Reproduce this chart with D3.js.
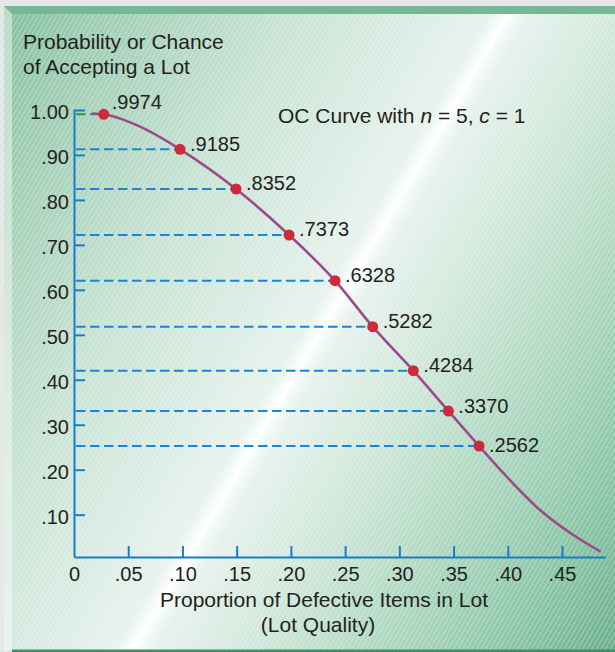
<!DOCTYPE html>
<html>
<head>
<meta charset="utf-8">
<script src="https://cdn.jsdelivr.net/npm/d3@7"></script>
<style>
  html, body { margin: 0; padding: 0; background: #e4e9e7; }
  svg { display: block; }
  text { font-family: "Liberation Sans", Arial, Helvetica, sans-serif; fill: #231f20; }
</style>
</head>
<body>
<svg id="chart" width="615" height="652"></svg>
<script>
// ---------------- data ----------------
const xTickValues = [0, 0.05, 0.10, 0.15, 0.20, 0.25, 0.30, 0.35, 0.40, 0.45];
const xTickLabels = ["0", ".05", ".10", ".15", ".20", ".25", ".30", ".35", ".40", ".45"];
const yTickValues = [0.10, 0.20, 0.30, 0.40, 0.50, 0.60, 0.70, 0.80, 0.90, 1.00];
const yTickLabels = [".10", ".20", ".30", ".40", ".50", ".60", ".70", ".80", ".90", "1.00"];

// marked points: defective proportion (x), plotted height (y), printed probability
const pointDefective = [0.0274, 0.0978, 0.1494, 0.1983, 0.2407, 0.2754, 0.3129, 0.3452, 0.3735];
const pointHeight    = [0.9904, 0.9126, 0.8243, 0.7220, 0.6203, 0.5180, 0.4202, 0.3305, 0.2527];
const pointLabels    = [".9974", ".9185", ".8352", ".7373", ".6328", ".5282", ".4284", ".3370", ".2562"];

// OC curve trace
const curveDefective = [0.0163, 0.0274, 0.0609, 0.0978, 0.1494, 0.1983, 0.2407, 0.2754, 0.3129, 0.3452, 0.3735, 0.3990, 0.4297, 0.4604, 0.4857];
const curveAccept    = [0.9922, 0.9904, 0.9629, 0.9126, 0.8243, 0.7220, 0.6203, 0.5180, 0.4202, 0.3305, 0.2527, 0.1844, 0.1103, 0.0547, 0.0176];

const yTitleLines = ["Probability or Chance", "of Accepting a Lot"];
const xTitleLines = ["Proportion of Defective Items in Lot", "(Lot Quality)"];

// ---------------- layout ----------------
const W = 615, H = 652;
const svg = d3.select("#chart");
const defs = svg.append("defs");

const grad = defs.append("linearGradient").attr("id", "bg")
  .attr("gradientUnits", "userSpaceOnUse")
  .attr("x1", 0).attr("y1", 0).attr("x2", 740).attr("y2", 437);
[[0, "#7dbc9b"], [0.1, "#98caae"], [0.2, "#b0d6c2"], [0.3, "#c6e2d3"], [0.42, "#d8ebe1"],
 [0.5, "#e6f2ec"], [0.511, "#f6fbf8"], [0.518, "#ffffff"], [0.525, "#f3f9f5"], [0.54, "#e4f1ea"],
 [0.62, "#d2e9dc"], [0.72, "#b8dcc8"], [0.82, "#9ccfb3"], [0.92, "#80bf9e"], [1, "#67ad89"]]
  .forEach(([o, c]) => grad.append("stop").attr("offset", o).attr("stop-color", c));

const hatch = defs.append("pattern").attr("id", "hatch")
  .attr("patternUnits", "userSpaceOnUse").attr("width", 4).attr("height", 4)
  .attr("patternTransform", "rotate(30)");
hatch.append("line").attr("x1", 1).attr("y1", 0).attr("x2", 1).attr("y2", 4)
  .attr("stroke", "#ffffff").attr("stroke-opacity", 0.35).attr("stroke-width", 1.2);

// frame
svg.append("rect").attr("width", W).attr("height", H).attr("fill", "#e4e9e7");
svg.append("rect").attr("x", 4).attr("y", 6).attr("width", W - 4).attr("height", 644).attr("fill", "url(#bg)");
svg.append("rect").attr("x", 4).attr("y", 6).attr("width", W - 4).attr("height", 644).attr("fill", "url(#hatch)");
svg.append("polygon").attr("points", "4,6 615,6 615,14 12,14").attr("fill", "#77b796");
svg.append("polygon").attr("points", "4,6 12,14 12,650 4,650").attr("fill", "#ffffff").attr("fill-opacity", 0.42);
svg.append("rect").attr("x", 12).attr("y", 649.5).attr("width", W - 12).attr("height", 2.5).attr("fill", "#3f9068");

// scales
const x = d3.scaleLinear().domain([0, 0.49]).range([74, 605.4]);
const y = d3.scaleLinear().domain([0, 1]).range([559.6, 110]);
const axisY0 = 557;
const axisColor = "#1b7cc5";
const tickFont = 20;

// dashed guide lines
const guides = svg.append("g");
pointDefective.forEach((d, i) => {
  guides.append("line")
    .attr("x1", 76).attr("x2", x(d))
    .attr("y1", y(pointHeight[i])).attr("y2", y(pointHeight[i]))
    .attr("stroke", i === 0 ? "#24925a" : "#1f84d0")
    .attr("stroke-width", 2)
    .attr("stroke-dasharray", "9.5,4.5");
});

// x axis
const xAxis = svg.append("g").attr("transform", `translate(0,${axisY0})`)
  .call(d3.axisBottom(x).tickValues(xTickValues)
    .tickFormat((d, i) => xTickLabels[i]).tickSize(-11).tickSizeOuter(0).tickPadding(10));
xAxis.select(".domain").attr("stroke", axisColor).attr("stroke-width", 2);
xAxis.selectAll(".tick line").attr("stroke", axisColor).attr("stroke-width", 2)
  .filter(d => d === 0).remove();
xAxis.selectAll(".tick text").attr("font-size", tickFont)
  .attr("font-family", "'Liberation Sans', Arial, sans-serif").attr("fill", "#231f20");

// y axis
const yAxis = svg.append("g").attr("transform", "translate(74,0)")
  .call(d3.axisLeft(y).tickValues(yTickValues)
    .tickFormat((d, i) => yTickLabels[i]).tickSize(-11).tickSizeOuter(0).tickPadding(5));
yAxis.select(".domain").remove();
yAxis.append("line").attr("x1", 0.5).attr("x2", 0.5).attr("y1", axisY0).attr("y2", y(1))
  .attr("stroke", axisColor).attr("stroke-width", 2);
yAxis.selectAll(".tick line").attr("stroke", axisColor).attr("stroke-width", 2);
yAxis.selectAll(".tick text").attr("font-size", tickFont).attr("dy", "0.43em")
  .attr("font-family", "'Liberation Sans', Arial, sans-serif").attr("fill", "#231f20");

// curve
const line = d3.line()
  .x((d, i) => x(curveDefective[i]))
  .y((d, i) => y(curveAccept[i]))
  .curve(d3.curveMonotoneX);
svg.append("path").datum(curveDefective).attr("d", line)
  .attr("fill", "none").attr("stroke", "#9c4a8c").attr("stroke-width", 2.6);

// points
svg.append("g").selectAll("circle").data(pointDefective).join("circle")
  .attr("cx", d => x(d)).attr("cy", (d, i) => y(pointHeight[i])).attr("r", 5.5)
  .attr("fill", "#cf2a3c");

// point labels
svg.append("g").selectAll("text").data(pointLabels).join("text")
  .attr("x", (d, i) => x(pointDefective[i]) + (i === 0 ? 8 : 10))
  .attr("y", (d, i) => y(pointHeight[i]) + (i === 0 ? -5 : (i === pointLabels.length - 1 ? 6.5 : 1.5)))
  .attr("font-size", tickFont)
  .text(d => d);

// titles
const yt = svg.append("text").attr("font-size", 21);
yTitleLines.forEach((t, i) => yt.append("tspan").attr("x", 23).attr("y", 48.5 + i * 25.2).text(t));

const xt = svg.append("text").attr("font-size", 21).attr("text-anchor", "middle");
xTitleLines.forEach((t, i) => xt.append("tspan").attr("x", i === 0 ? 324 : 318).attr("y", 607 + i * 25).text(t));

const title = svg.append("text").attr("x", 278).attr("y", 123.3).attr("font-size", 21);
title.append("tspan").text("OC Curve with ");
title.append("tspan").attr("font-style", "italic").text("n");
title.append("tspan").text(" = 5, ");
title.append("tspan").attr("font-style", "italic").text("c");
title.append("tspan").text(" = 1");
</script>
</body>
</html>
